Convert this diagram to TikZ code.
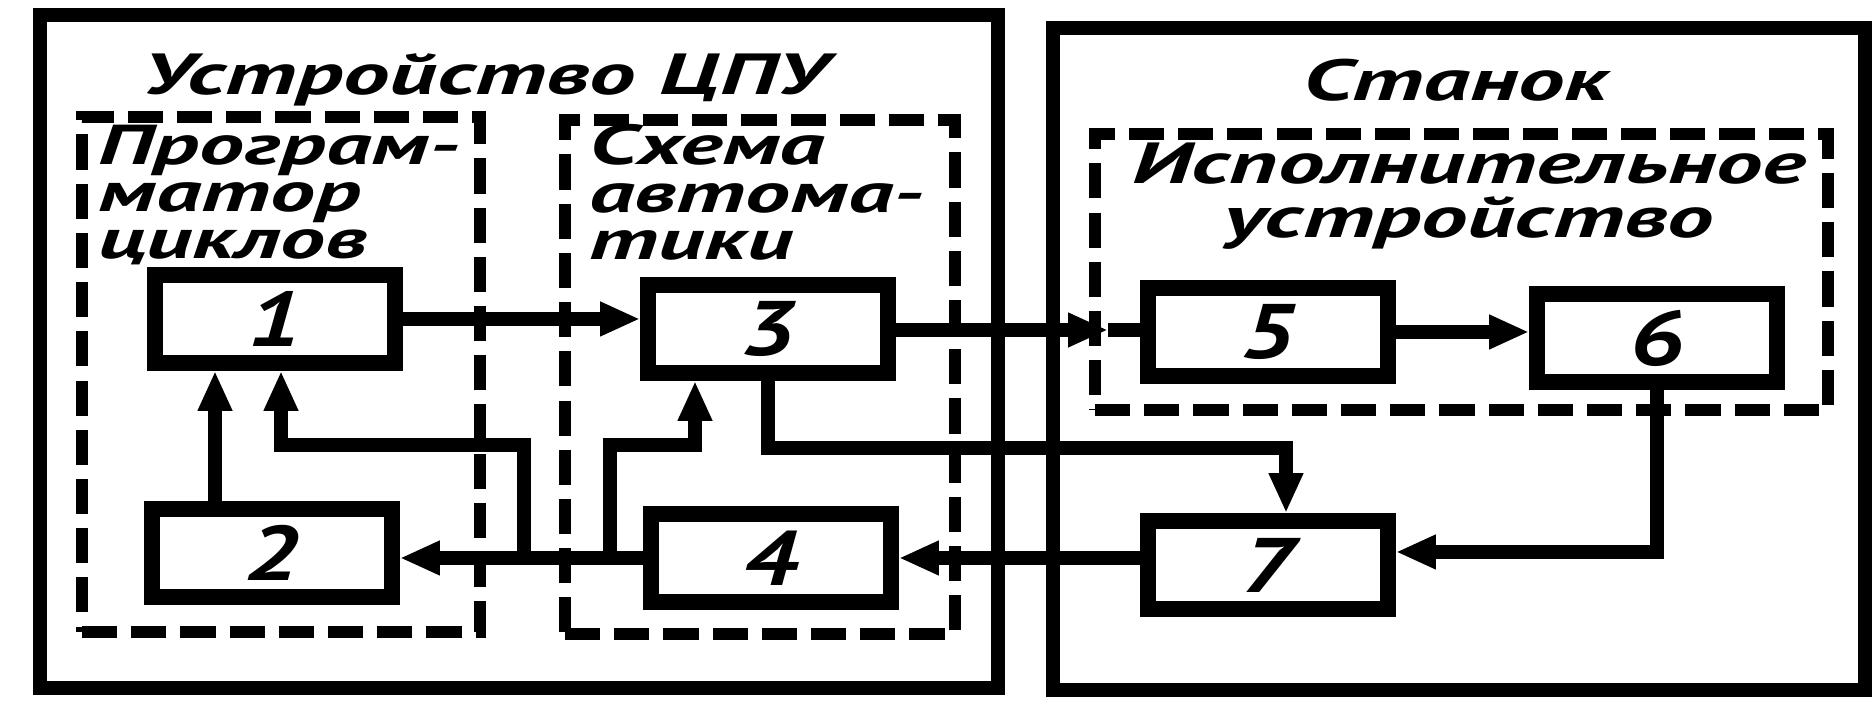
\documentclass[tikz,border=0pt]{standalone}
\usepackage{fontspec}
\newfontfamily\lblfont{PT Sans}[FakeStretch=1.6]
\newfontfamily\numfont{PT Sans}[FakeStretch=1.3]
\usetikzlibrary{arrows.meta}

\begin{document}
\begin{tikzpicture}[x=1cm,y=1cm]
\tikzset{frame/.style={draw,line width=4pt,inner sep=0pt},
  dframe/.style={frame,line width=3.5pt,dash pattern=on 10pt off 4pt},
  blk/.style={draw,line width=4.5pt,fill=white,minimum width=2.4cm,minimum height=0.88cm,inner sep=0pt,font=\numfont\bfseries\itshape\fontsize{22}{22}\selectfont},
  ttl/.style={inner sep=0pt,align=left,font=\lblfont\bfseries\itshape\fontsize{16}{13.5}\selectfont},
  wire/.style={line width=4pt},
  arr/.style={wire,-{Triangle[length=4mm,width=3.2mm]}}}
\useasboundingbox (0,0) rectangle (18.76,7.20);
\node[frame,minimum width=9.58cm,minimum height=6.73cm] (cpu) at (5.19,3.685) {};
\node[frame,minimum width=8.12cm,minimum height=6.62cm] (stanok) at (14.59,3.61) {};
\node[dframe,minimum width=3.98cm,minimum height=5.15cm] (prog) at (2.81,3.455) {};
\node[dframe,minimum width=3.90cm,minimum height=5.14cm] (avt) at (7.60,3.43) {};
\node[dframe,minimum width=7.33cm,minimum height=2.76cm] (isp) at (14.615,4.48) {};
\node[ttl,font=\lblfont\bfseries\itshape\fontsize{16.5}{13.5}\selectfont] (tcpu) at (4.85,6.40) {Устройство ЦПУ};
\node[ttl,font=\lblfont\bfseries\itshape\fontsize{16.5}{13.5}\selectfont] (tstanok) at (14.56,6.40) {Станок};
\node[ttl,anchor=north west] (tprog) at (0.98,5.96) {Програм-\\матор\\циклов};
\node[ttl,anchor=north west] (tavt) at (5.89,5.96) {Схема\\автома-\\тики};
\node[ttl,align=center,font=\lblfont\bfseries\itshape\fontsize{16.5}{15.5}\selectfont] (tisp) at (14.69,5.24) {Исполнительное\\устройство};
\node[blk] (b1) at (2.75,4.01) {1};
\node[blk] (b2) at (2.72,1.67) {2};
\node[blk] (b3) at (7.68,3.91) {3};
\node[blk] (b4) at (7.71,1.62) {4};
\node[blk] (b5) at (12.68,3.88) {5};
\node[blk] (b6) at (16.57,3.82) {6};
\node[blk] (b7) at (12.68,1.55) {7};
\coordinate (t5) at (11.08,3.90);
\coordinate (k37) at (12.86,2.72);
\coordinate (j1) at (5.24,2.75);
\coordinate (j3) at (6.10,2.75);
\draw[arr] (b1.east) -- (b1.east-|b3.west);
\draw[arr] (b3.east|-t5) -- (t5); \draw[wire] (t5) -- (b5.west|-t5);
\draw[arr] (b5.east) -- (b5.east-|b6.west);
\draw[arr] (b6.south) |- ([yshift=1.3mm]b7.east);
\draw[arr] (b3.south) |- (k37) -- (k37|-b7.north);
\draw[arr] (b7.west|-b4) -- (b4.east);
\draw[arr] (b4.west) -- (b4.west-|b2.east);
\draw[arr] ([xshift=-5.7mm]b2.north) -- ([xshift=-5.7mm]b2.north|-b1.south);
\draw[arr] (j1|-b4) -- (j1) -| ([xshift=0.6mm]b1.south);
\draw[arr] (j3|-b4) -- (j3) -| ([xshift=-7.3mm]b3.south);
\end{tikzpicture}
\end{document}
